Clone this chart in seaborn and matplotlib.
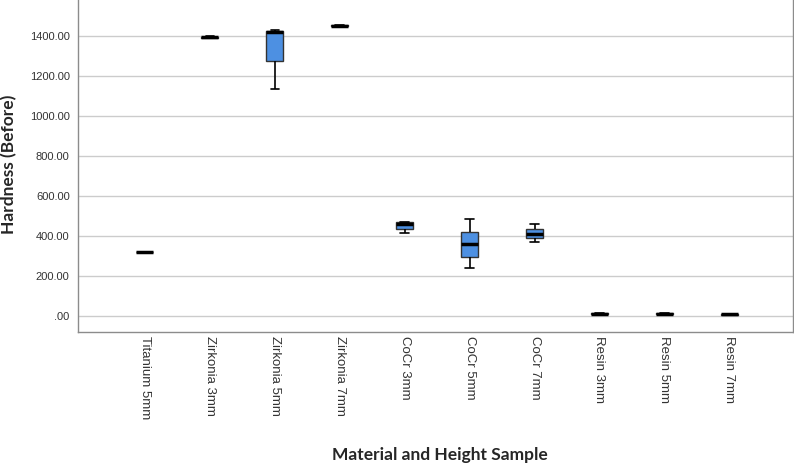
import matplotlib
matplotlib.use("Agg")
import matplotlib.pyplot as plt
import seaborn as sns
import pandas as pd
from matplotlib.ticker import FuncFormatter

categories = ["Titanium 5mm", "Zirkonia 3mm", "Zirkonia 5mm", "Zirkonia 7mm",
              "CoCr 3mm", "CoCr 5mm", "CoCr 7mm", "Resin 3mm", "Resin 5mm", "Resin 7mm"]
titanium_5 = [314, 316, 317, 318, 320]
zirkonia_3 = [1388, 1390, 1392, 1394, 1396]
zirkonia_5 = [1135, 1273, 1420, 1425, 1430]
zirkonia_7 = [1443, 1446, 1449, 1452, 1455]
cocr_3 = [412, 433, 458, 467, 467]
cocr_5 = [237, 295, 357, 420, 482]
cocr_7 = [367, 387, 410, 432, 457]
resin_3 = [8, 9, 10, 11, 12]
resin_5 = [8, 9, 10, 11, 12]
resin_7 = [4, 5, 6, 7, 8]
y_ticks = [0, 200, 400, 600, 800, 1000, 1200, 1400]

groups = [titanium_5, zirkonia_3, zirkonia_5, zirkonia_7, cocr_3, cocr_5, cocr_7,
          resin_3, resin_5, resin_7]
rows = []
for cat, vals in zip(categories, groups):
    for v in vals:
        rows.append({"Material": cat, "Hardness": v})
df = pd.DataFrame(rows)

sns.set_style("white")
fig = plt.figure(figsize=(7.94, 4.66), dpi=100)
ax = fig.add_axes([78 / 794, (466 - 332) / 466, (793 - 78) / 794, 332 / 466])

sns.boxplot(data=df, x="Material", y="Hardness", order=categories, ax=ax,
            color="#4d90e2", saturation=1, width=0.26, whis=1.5,
            linewidth=1.0,
            boxprops=dict(edgecolor="#333333", linewidth=1.0),
            medianprops=dict(color="black", linewidth=2.5),
            whiskerprops=dict(color="black", linewidth=1.2),
            capprops=dict(color="black", linewidth=1.2),
            zorder=3)

ax.set_ylim(-81.5, 1578)
ax.set_xlim(-1.03, 9.98)
ax.set_yticks(y_ticks)
ax.yaxis.set_major_formatter(FuncFormatter(lambda v, p: ("%.2f" % v).lstrip("0") if v < 1 else "%.2f" % v))
ax.grid(axis="y", color="#cccccc", linewidth=1.0, zorder=0)
ax.set_axisbelow(True)

for s in ["left", "bottom", "right"]:
    ax.spines[s].set_color("#8c8c8c")
    ax.spines[s].set_linewidth(1.0)
ax.spines["top"].set_visible(False)

ax.tick_params(axis="y", length=3, color="#8c8c8c", labelsize=8, labelcolor="#333333", pad=3)
ax.tick_params(axis="x", length=0, labelsize=9.5, labelcolor="#333333", pad=3)
for lab in ax.get_yticklabels():
    lab.set_family(["Liberation Sans", "DejaVu Sans"])
for lab in ax.get_xticklabels():
    lab.set_rotation(270)
    lab.set_family(["Liberation Sans", "DejaVu Sans"])
    lab.set_va("top")
    lab.set_ha("center")

ax.set_ylabel("Hardness (Before)", fontsize=12.5, fontweight="bold", family=["Lato", "DejaVu Sans"])
ax.set_xlabel("Material and Height Sample", fontsize=12.5, fontweight="bold", family=["Lato", "DejaVu Sans"])
ax.xaxis.label.set_va("center")
ax.yaxis.label.set_va("center")
ax.xaxis.set_label_coords((440 - 78) / 715, -(455 - 332) / 332)
ax.yaxis.set_label_coords(-(78 - 9) / 715, (332 - 164) / 332)

fig.savefig("out.png", dpi=100)
